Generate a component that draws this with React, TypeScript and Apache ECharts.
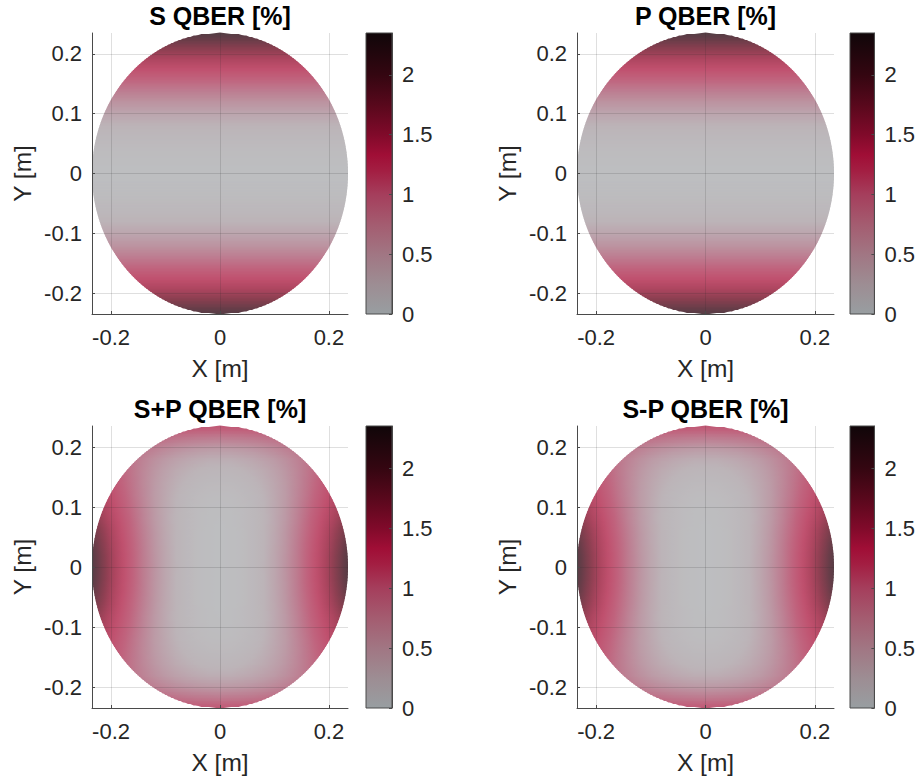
import { useEffect, useRef } from 'react';
import * as echarts from 'echarts';

const FONT = '"Liberation Sans", Arial, Helvetica, sans-serif';

// Distances from the optical axis (m) at which the QBER was sampled (one quadrant)
const sampleSteps = [0, 0.02, 0.04, 0.06, 0.08, 0.1, 0.12, 0.14, 0.16, 0.18, 0.2, 0.22, 0.24];
const apertureRadius = 0.235;
const axisLimit = 0.235;
const xTickValues = [-0.2, 0, 0.2];
const yTickValues = [-0.2, -0.1, 0, 0.1, 0.2];
const colorLimits = [0, 2.35];
const colorTickValues = [0, 0.5, 1, 1.5, 2];

// S and P QBER [%] against |y| (constant along x)
const sQberByY = [0.0, 0.02, 0.07, 0.15, 0.26, 0.4, 0.58, 0.79, 1.03, 1.31, 1.61, 1.95, 2.32];
const pQberByY = [0.0, 0.02, 0.07, 0.15, 0.26, 0.4, 0.58, 0.79, 1.03, 1.31, 1.61, 1.95, 2.32];

// S+P QBER [%] quadrant: rows |y| = sampleSteps, columns |x| = sampleSteps
const spQberQuadrant = [
  [0.0, 0.02, 0.06, 0.14, 0.26, 0.4, 0.58, 0.78, 1.02, 1.3, 1.6, 1.94, 2.3],
  [0.0, 0.02, 0.06, 0.14, 0.25, 0.4, 0.57, 0.78, 1.02, 1.29, 1.59, 1.92, 2.27],
  [0.0, 0.02, 0.06, 0.14, 0.25, 0.39, 0.56, 0.77, 1.0, 1.27, 1.55, 1.86, 2.2],
  [0.0, 0.02, 0.06, 0.14, 0.25, 0.38, 0.55, 0.75, 0.97, 1.22, 1.5, 1.78, 2.08],
  [0.01, 0.03, 0.07, 0.14, 0.24, 0.37, 0.53, 0.72, 0.94, 1.17, 1.41, 1.66, 1.94],
  [0.03, 0.04, 0.08, 0.15, 0.25, 0.37, 0.52, 0.7, 0.9, 1.11, 1.33, 1.55, 1.8],
  [0.06, 0.07, 0.11, 0.17, 0.26, 0.38, 0.51, 0.68, 0.86, 1.06, 1.26, 1.46, 1.68],
  [0.12, 0.13, 0.16, 0.22, 0.3, 0.4, 0.52, 0.67, 0.84, 1.02, 1.2, 1.38, 1.58],
  [0.2, 0.21, 0.24, 0.29, 0.35, 0.44, 0.55, 0.68, 0.83, 0.99, 1.15, 1.32, 1.5],
  [0.32, 0.32, 0.35, 0.39, 0.45, 0.52, 0.61, 0.72, 0.84, 0.98, 1.12, 1.27, 1.43],
  [0.53, 0.54, 0.56, 0.59, 0.63, 0.69, 0.76, 0.84, 0.94, 1.05, 1.16, 1.28, 1.41],
  [0.85, 0.86, 0.87, 0.89, 0.92, 0.96, 1.01, 1.07, 1.13, 1.2, 1.27, 1.35, 1.44],
  [1.25, 1.25, 1.25, 1.27, 1.28, 1.3, 1.32, 1.35, 1.38, 1.42, 1.46, 1.5, 1.54],
];

// S-P QBER [%] quadrant, same layout
const smpQberQuadrant = [
  [0.0, 0.02, 0.06, 0.14, 0.26, 0.4, 0.58, 0.78, 1.02, 1.3, 1.6, 1.94, 2.3],
  [0.0, 0.02, 0.06, 0.14, 0.25, 0.4, 0.57, 0.78, 1.02, 1.29, 1.59, 1.92, 2.27],
  [0.0, 0.02, 0.06, 0.14, 0.25, 0.39, 0.56, 0.77, 1.0, 1.27, 1.55, 1.86, 2.2],
  [0.0, 0.02, 0.06, 0.14, 0.25, 0.38, 0.55, 0.75, 0.97, 1.22, 1.5, 1.78, 2.08],
  [0.01, 0.03, 0.07, 0.14, 0.24, 0.37, 0.53, 0.72, 0.94, 1.17, 1.41, 1.66, 1.94],
  [0.03, 0.04, 0.08, 0.15, 0.25, 0.37, 0.52, 0.7, 0.9, 1.11, 1.33, 1.55, 1.8],
  [0.06, 0.07, 0.11, 0.17, 0.26, 0.38, 0.51, 0.68, 0.86, 1.06, 1.26, 1.46, 1.68],
  [0.12, 0.13, 0.16, 0.22, 0.3, 0.4, 0.52, 0.67, 0.84, 1.02, 1.2, 1.38, 1.58],
  [0.2, 0.21, 0.24, 0.29, 0.35, 0.44, 0.55, 0.68, 0.83, 0.99, 1.15, 1.32, 1.5],
  [0.32, 0.32, 0.35, 0.39, 0.45, 0.52, 0.61, 0.72, 0.84, 0.98, 1.12, 1.27, 1.43],
  [0.53, 0.54, 0.56, 0.59, 0.63, 0.69, 0.76, 0.84, 0.94, 1.05, 1.16, 1.28, 1.41],
  [0.85, 0.86, 0.87, 0.89, 0.92, 0.96, 1.01, 1.07, 1.13, 1.2, 1.27, 1.35, 1.44],
  [1.25, 1.25, 1.25, 1.27, 1.28, 1.3, 1.32, 1.35, 1.38, 1.42, 1.46, 1.5, 1.54],
];

const panelTitles = ['S QBER [%]', 'P QBER [%]', 'S+P QBER [%]', 'S-P QBER [%]'];

// Colour map of the colour bar (value -> rgb)
const colorbarStops: [number, number[]][] = [
  [0.0, [152, 158, 161]],
  [0.25, [157, 141, 147]],
  [0.5, [161, 118, 131]],
  [0.75, [164, 92, 112]],
  [1.0, [165, 62, 92]],
  [1.2, [163, 30, 66]],
  [1.33, [160, 14, 54]],
  [1.5, [128, 10, 42]],
  [1.75, [88, 8, 28]],
  [2.0, [52, 6, 17]],
  [2.35, [16, 6, 9]],
];

// The lit surface shows the same map with lighter, softer shades
const surfaceStops: [number, number[]][] = [
  [0.0, [189, 190, 192]],
  [0.25, [188, 180, 184]],
  [0.5, [188, 156, 167]],
  [0.75, [189, 128, 147]],
  [1.0, [192, 100, 126]],
  [1.25, [192, 80, 110]],
  [1.5, [172, 69, 95]],
  [1.75, [140, 63, 81]],
  [2.05, [102, 61, 72]],
  [2.35, [72, 62, 66]],
];

const makeColormap = (stops: [number, number[]][]) => (v: number) => {
  const x = Math.min(Math.max(v, stops[0][0]), stops[stops.length - 1][0]);
  let k = 1;
  while (k < stops.length - 1 && stops[k][0] < x) k++;
  const [v0, c0] = stops[k - 1];
  const [v1, c1] = stops[k];
  const t = v1 === v0 ? 0 : (x - v0) / (v1 - v0);
  return `rgb(${c0.map((c, n) => Math.round(c + (c1[n] - c) * t)).join(',')})`;
};
const surfaceColor = makeColormap(surfaceStops);
const barColor = makeColormap(colorbarStops);

// Full symmetric sample positions, -0.24 ... 0.24
const fullSteps = [...sampleSteps.slice(1).reverse().map((v) => -v), ...sampleSteps];
const mirrorIndex = (k: number) => Math.abs(k - (sampleSteps.length - 1));

const fieldFromProfile = (profile: number[]) =>
  fullSteps.map((_, j) => fullSteps.map(() => profile[mirrorIndex(j)]));
const fieldFromQuadrant = (quadrant: number[][]) =>
  fullSteps.map((_, j) => fullSteps.map((__, i) => quadrant[mirrorIndex(j)][mirrorIndex(i)]));

const fields = [
  fieldFromProfile(sQberByY),
  fieldFromProfile(pQberByY),
  fieldFromQuadrant(spQberQuadrant),
  fieldFromQuadrant(smpQberQuadrant),
];

const halfChord = (y: number) => Math.sqrt(Math.max(0, apertureRadius * apertureRadius - y * y));

const STRIPS_PER_ROW = 8;
const STOPS_PER_CELL = 3;

// Interpolated shading of one sample row band, clipped to the circular aperture
const surfaceSeries = (field: number[][], idx: number) => ({
  type: 'custom',
  xAxisIndex: idx,
  yAxisIndex: idx,
  z: 1,
  silent: true,
  encode: { x: 0, y: 1 },
  data: fullSteps.slice(0, -1).map((y, j) => [0, y, j]),
  renderItem: (_params: any, api: any) => {
    const j = api.value(2) as number;
    const y0 = fullSteps[j];
    const y1 = fullSteps[j + 1];
    const xl = api.coord([fullSteps[0], 0])[0];
    const xr = api.coord([fullSteps[fullSteps.length - 1], 0])[0];
    const n = fullSteps.length;
    const children: any[] = [];
    for (let k = 0; k < STRIPS_PER_ROW; k++) {
      const ya = y0 + ((y1 - y0) * k) / STRIPS_PER_ROW;
      const yb = y0 + ((y1 - y0) * (k + 1)) / STRIPS_PER_ROW;
      const wa = halfChord(ya);
      const wb = halfChord(yb);
      if (wa <= 0 && wb <= 0) continue;
      const t = (k + 0.5) / STRIPS_PER_ROW;
      const vals = field[j].map((v, i) => v + (field[j + 1][i] - v) * t);
      const a1 = api.coord([-wa, ya]);
      const a2 = api.coord([wa, ya]);
      const b2 = api.coord([wb, yb]);
      const b1 = api.coord([-wb, yb]);
      const pts = [
        [a1[0], a1[1] + 0.4],
        [a2[0], a2[1] + 0.4],
        [b2[0], b2[1] - 0.4],
        [b1[0], b1[1] - 0.4],
      ];
      let fill: any;
      if (vals.every((v) => v === vals[0])) {
        fill = surfaceColor(vals[0]);
      } else {
        const colorStops: any[] = [];
        for (let i = 0; i < n - 1; i++) {
          for (let s = 0; s < STOPS_PER_CELL; s++) {
            const f = s / STOPS_PER_CELL;
            colorStops.push({
              offset: (i + f) / (n - 1),
              color: surfaceColor(vals[i] + (vals[i + 1] - vals[i]) * f),
            });
          }
        }
        colorStops.push({ offset: 1, color: surfaceColor(vals[n - 1]) });
        fill = { type: 'linear', x: xl, y: 0, x2: xr, y2: 0, global: true, colorStops };
      }
      children.push({ type: 'polygon', shape: { points: pts }, style: { fill, stroke: null } });
    }
    return { type: 'group', children };
  },
});

const AXIS_COLOR = '#4a4a4a';
const TEXT_COLOR = '#262626';

const panelLayout = [
  { left: 92, top: 33, width: 256, height: 281, barLeft: 366 },
  { left: 577, top: 33, width: 257, height: 281, barLeft: 850 },
  { left: 92, top: 426, width: 256, height: 282, barLeft: 366 },
  { left: 577, top: 426, width: 257, height: 282, barLeft: 850 },
];

const buildOption = () => {
  const grids: any[] = [];
  const xAxes: any[] = [];
  const yAxes: any[] = [];
  const series: any[] = [];
  const titles: any[] = [];

  panelLayout.forEach((p, idx) => {
    grids.push({ left: p.left, top: p.top, width: p.width, height: p.height });
    const valueAxis = (name: string, isX: boolean) => {
      const ticks = isX ? xTickValues : yTickValues;
      return {
        type: 'value',
        gridIndex: idx,
        min: -axisLimit,
        max: axisLimit,
        minInterval: isX ? 0.2 : 0.1,
        maxInterval: isX ? 0.2 : 0.1,
        z: 4,
        name,
        nameLocation: 'middle',
        nameGap: isX ? 42 : 57,
        nameTextStyle: { fontFamily: FONT, fontSize: 24.5, color: TEXT_COLOR },
        axisLine: { show: true, onZero: false, lineStyle: { color: AXIS_COLOR, width: 1 } },
        axisTick: { show: true, inside: true, length: 3, customValues: ticks, lineStyle: { color: AXIS_COLOR } },
        axisLabel: {
          customValues: ticks,
          fontFamily: FONT,
          fontSize: 22,
          color: TEXT_COLOR,
          margin: isX ? 12 : 10,
        },
        splitLine: {
          show: true,
          lineStyle: { color: 'rgba(38,38,38,0.15)', width: 1 },
        },
      };
    };
    xAxes.push(valueAxis('X [m]', true));
    yAxes.push(valueAxis('Y [m]', false));
    series.push(surfaceSeries(fields[idx], idx));
    titles.push({
      text: panelTitles[idx],
      left: p.left + p.width / 2,
      top: p.top - 30,
      textAlign: 'center',
      padding: 0,
      textStyle: { fontFamily: FONT, fontSize: 25, fontWeight: 'bold', color: '#000' },
    });
  });

  // Colour bars
  panelLayout.forEach((p, idx) => {
    const gi = panelLayout.length + idx;
    grids.push({
      left: p.barLeft,
      top: p.top,
      width: 26,
      height: p.height,
      show: true,
      z: 5,
      backgroundColor: 'transparent',
      borderColor: AXIS_COLOR,
      borderWidth: 1,
    });
    xAxes.push({ type: 'category', gridIndex: gi, data: [''], show: false });
    yAxes.push({
      type: 'value',
      gridIndex: gi,
      position: 'right',
      min: colorLimits[0],
      max: colorLimits[1],
      interval: 0.5,
      z: 6,
      axisLine: { show: true, lineStyle: { color: AXIS_COLOR, width: 1 } },
      axisTick: { show: true, inside: true, length: 3, customValues: colorTickValues, lineStyle: { color: AXIS_COLOR } },
      axisLabel: {
        customValues: colorTickValues,
        fontFamily: FONT,
        fontSize: 22,
        color: TEXT_COLOR,
        margin: 10,
      },
      splitLine: { show: false },
    });
    series.push({
      type: 'bar',
      xAxisIndex: gi,
      yAxisIndex: gi,
      data: [colorLimits[1]],
      barWidth: '100%',
      silent: true,
      itemStyle: {
        color: new echarts.graphic.LinearGradient(
          0,
          1,
          0,
          0,
          colorbarStops.map(([v]) => ({
            offset: (v - colorLimits[0]) / (colorLimits[1] - colorLimits[0]),
            color: barColor(v),
          }))
        ),
      },
    });
  });

  return {
    animation: false,
    backgroundColor: '#ffffff',
    title: titles,
    grid: grids,
    xAxis: xAxes,
    yAxis: yAxes,
    series,
  };
};

export default function App() {
  const ref = useRef<HTMLDivElement>(null);
  useEffect(() => {
    if (!ref.current) return;
    const chart = echarts.init(ref.current, null, { renderer: 'svg' });
    chart.setOption(buildOption() as any);
    return () => chart.dispose();
  }, []);
  return (
    <div
      ref={ref}
      style={{ position: 'absolute', left: 0, top: 0, width: 918, height: 783, background: '#fff' }}
    />
  );
}
